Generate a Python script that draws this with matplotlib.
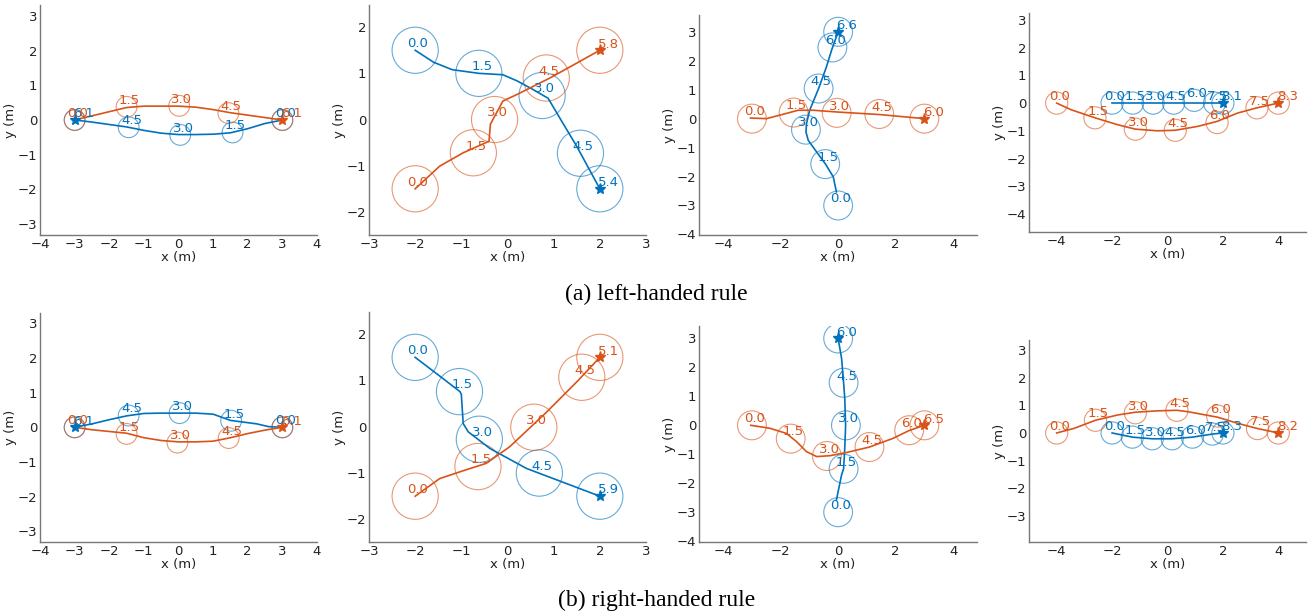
import matplotlib
matplotlib.use("Agg")
import matplotlib.pyplot as plt
from matplotlib.patches import Circle

W, H = 1313, 614
BLUE = "#0072BD"
ORANGE = "#D95319"

# ---------------- data ----------------
# Panel 1: left-handed, head-on swap
p1_blue_path = [(3, 0), (2.5, -0.1), (2, -0.25), (1.5, -0.37), (1, -0.41), (0.5, -0.42), (0, -0.42),
                (-0.5, -0.38), (-1, -0.3), (-1.5, -0.2), (-2, -0.13), (-2.5, -0.06), (-3, 0)]
p1_blue_marks = [("0.0", 3, 0), ("1.5", 1.56, -0.36), ("3.0", 0.05, -0.43), ("4.5", -1.44, -0.21), ("6.1", -3, 0)]
p1_orange_path = [(-3, 0), (-2.5, 0.12), (-2, 0.24), (-1.5, 0.36), (-1, 0.4), (-0.5, 0.4), (0, 0.4),
                  (0.5, 0.37), (1, 0.3), (1.5, 0.21), (2, 0.14), (2.5, 0.07), (3, 0)]
p1_orange_marks = [("0.0", -3, 0), ("1.5", -1.5, 0.38), ("3.0", 0.02, 0.41), ("4.5", 1.44, 0.2), ("6.1", 3, 0)]

# Panel 2: left-handed, diagonal crossing
p2_blue_path = [(-2, 1.5), (-1.6, 1.24), (-1.2, 1.08), (-0.62, 1.0), (-0.1, 0.97), (0.2, 0.84),
                (0.5, 0.68), (0.88, 0.46), (1.2, -0.08), (1.5, -0.58), (2, -1.5)]
p2_blue_marks = [("0.0", -2, 1.5), ("1.5", -0.62, 1.0), ("3.0", 0.75, 0.52), ("4.5", 1.58, -0.73), ("5.4", 2, -1.5)]
p2_orange_path = [(-2, -1.5), (-1.47, -1.01), (-0.96, -0.72), (-0.4, -0.47), (-0.37, -0.1), (-0.3, 0.03),
                  (-0.1, 0.4), (0.2, 0.54), (0.92, 0.9), (2, 1.5)]
p2_orange_marks = [("0.0", -2, -1.5), ("1.5", -0.74, -0.72), ("3.0", -0.28, 0.0), ("4.5", 0.84, 0.9), ("5.8", 2, 1.5)]

# Panel 3: left-handed, perpendicular crossing
p3_blue_path = [(-0.06, -2.53), (-0.17, -2.01), (-0.44, -1.57), (-0.75, -1.15), (-1.04, -0.75), (-1.12, -0.46),
                (-1.1, -0.17), (-0.99, 0.29), (-0.68, 1.04), (-0.41, 1.78), (-0.23, 2.36), (0, 3)]
p3_blue_marks = [("0.0", 0, -3), ("1.5", -0.45, -1.57), ("3.0", -1.12, -0.38), ("4.5", -0.68, 1.04),
                 ("6.0", -0.2, 2.46), ("6.6", 0, 3)]
p3_orange_path = [(-3.05, 0.02), (-2.49, 0.0), (-2.03, 0.12), (-1.39, 0.29), (-0.87, 0.29), (-0.05, 0.23),
                  (1.45, 0.14), (3, 0)]
p3_orange_marks = [("0.0", -3, 0), ("1.5", -1.55, 0.21), ("3.0", -0.05, 0.2), ("4.5", 1.43, 0.16), ("6.0", 3, 0)]

# Panel 4: left-handed, overtaking
p4_blue_path = [(-2, 0), (2, 0)]
p4_blue_marks = [("0.0", -2, 0), ("1.5", -1.26, 0), ("3.0", -0.52, 0), ("4.5", 0.22, 0), ("6.0", 0.96, 0.1),
                 ("7.5", 1.7, 0), ("8.1", 2, 0)]
p4_orange_path = [(-4, 0), (-3.48, -0.24), (-2.62, -0.53), (-1.8, -0.78), (-1.16, -0.94), (-0.36, -1.0),
                  (0.28, -0.98), (1.09, -0.84), (1.79, -0.66), (2.53, -0.36), (3.23, -0.17), (4, 0)]
p4_orange_marks = [("0.0", -4, 0), ("1.5", -2.62, -0.53), ("3.0", -1.16, -0.94), ("4.5", 0.28, -0.98),
                   ("6.0", 1.79, -0.7), ("7.5", 3.23, -0.17), ("8.3", 4, 0)]

# Panel 5: right-handed, head-on swap
p5_blue_path = [(3, 0), (2.6, 0.02), (2.26, 0.1), (1.5, 0.2), (1, 0.38), (0.5, 0.41), (0, 0.41),
                (-0.5, 0.41), (-1, 0.4), (-1.5, 0.33), (-2, 0.22), (-2.5, 0.1), (-3, 0)]
p5_blue_marks = [("0.0", 3, 0), ("1.5", 1.52, 0.19), ("3.0", 0.03, 0.41), ("4.5", -1.44, 0.34), ("6.1", -3, 0)]
p5_orange_path = [(-3, 0), (-2.5, -0.07), (-2, -0.12), (-1.5, -0.17), (-1, -0.3), (-0.5, -0.38), (0, -0.42),
                  (0.5, -0.42), (1, -0.4), (1.5, -0.3), (2, -0.18), (2.5, -0.08), (3, 0)]
p5_orange_marks = [("0.0", -3, 0), ("1.5", -1.5, -0.19), ("3.0", -0.03, -0.44), ("4.5", 1.45, -0.31), ("6.1", 3, 0)]

# Panel 6: right-handed, diagonal crossing
p6_blue_path = [(-2, 1.5), (-1.5, 1.12), (-1.03, 0.76), (-1.0, 0.7), (-0.96, 0.07), (-0.85, -0.11),
                (-0.38, -0.47), (0.41, -0.9), (2, -1.5)]
p6_blue_marks = [("0.0", -2, 1.5), ("1.5", -1.04, 0.76), ("3.0", -0.61, -0.27), ("4.5", 0.69, -1.0), ("5.9", 2, -1.5)]
p6_orange_path = [(-2, -1.5), (-1.47, -1.12), (-0.96, -0.95), (-0.46, -0.79), (0.05, -0.43), (0.85, 0.32),
                  (1.5, 0.97), (2, 1.5)]
p6_orange_marks = [("0.0", -2, -1.5), ("1.5", -0.64, -0.86), ("3.0", 0.57, -0.01), ("4.5", 1.61, 1.07), ("5.1", 2, 1.5)]

# Panel 7: right-handed, perpendicular crossing
p7_blue_path = [(-0.06, -2.58), (0.12, -1.71), (0.19, -1.5), (0.23, -0.79), (0.26, 0), (0.23, 0.93),
                (0.19, 1.47), (0.12, 2.31), (0, 3)]
p7_blue_marks = [("0.0", 0, -3), ("1.5", 0.19, -1.5), ("3.0", 0.27, 0), ("4.5", 0.19, 1.47), ("6.0", 0, 3)]
p7_orange_path = [(-3.04, 0), (-2.38, -0.1), (-1.8, -0.28), (-1.45, -0.56), (-1.1, -0.91), (-0.75, -1.08),
                  (-0.29, -1.05), (0.29, -0.94), (1.09, -0.75), (1.91, -0.45), (2.47, -0.18), (3, 0)]
p7_orange_marks = [("0.0", -3, 0), ("1.5", -1.65, -0.46), ("3.0", -0.39, -1.06), ("4.5", 1.09, -0.75),
                   ("6.0", 2.47, -0.17), ("6.5", 3, 0)]

# Panel 8: right-handed, overtaking
p8_blue_path = [(-2, 0), (-1.27, -0.15), (-0.55, -0.21), (0.17, -0.21), (0.9, -0.15), (1.62, -0.04), (2, 0)]
p8_blue_marks = [("0.0", -2, 0), ("1.5", -1.27, -0.15), ("3.0", -0.55, -0.21), ("4.5", 0.17, -0.21),
                 ("6.0", 0.9, -0.15), ("7.5", 1.62, -0.04), ("8.3", 2, 0)]
p8_orange_path = [(-4, 0), (-3.36, 0.17), (-2.6, 0.46), (-1.8, 0.65), (-1.16, 0.75), (-0.36, 0.8), (0.34, 0.82),
                  (0.73, 0.77), (1.81, 0.57), (2.53, 0.35), (3.25, 0.16), (4, 0)]
p8_orange_marks = [("0.0", -4, 0), ("1.5", -2.6, 0.46), ("3.0", -1.16, 0.73), ("4.5", 0.34, 0.82),
                   ("6.0", 1.81, 0.61), ("7.5", 3.25, 0.16), ("8.2", 4, 0)]

captions = ["(a) left-handed rule", "(b) right-handed rule"]

# ---------------- layout / style ----------------
panels = [
    # (blue path, blue marks, orange path, orange marks, radius, box px (l,t,r,b), xlim, ylim, xticks, yticks)
    (p1_blue_path, p1_blue_marks, p1_orange_path, p1_orange_marks, 0.3, (40, 5, 317, 235),
     (-4, 4), (-3.32, 3.32), range(-4, 5), range(-3, 4)),
    (p2_blue_path, p2_blue_marks, p2_orange_path, p2_orange_marks, 0.5, (369, 5, 646, 235),
     (-3, 3), (-2.5, 2.48), range(-3, 4), range(-2, 3)),
    (p3_blue_path, p3_blue_marks, p3_orange_path, p3_orange_marks, 0.5, (699, 15, 977, 235),
     (-4.84, 4.83), (-4.02, 3.58), range(-4, 5, 2), range(-4, 4)),
    (p4_blue_path, p4_blue_marks, p4_orange_path, p4_orange_marks, 0.4, (1029, 13, 1306, 232),
     (-5.0, 5.0), (-4.65, 3.25), range(-4, 5, 2), range(-4, 4)),
    (p5_blue_path, p5_blue_marks, p5_orange_path, p5_orange_marks, 0.3, (40, 313, 317, 542),
     (-4, 4), (-3.31, 3.3), range(-4, 5), range(-3, 4)),
    (p6_blue_path, p6_blue_marks, p6_orange_path, p6_orange_marks, 0.5, (369, 312, 646, 542),
     (-3, 3), (-2.49, 2.48), range(-3, 4), range(-2, 3)),
    (p7_blue_path, p7_blue_marks, p7_orange_path, p7_orange_marks, 0.5, (699, 326, 977, 542),
     (-4.84, 4.83), (-4.03, 3.43), range(-4, 5, 2), range(-4, 4)),
    (p8_blue_path, p8_blue_marks, p8_orange_path, p8_orange_marks, 0.4, (1029, 340, 1306, 542),
     (-5.0, 5.0), (-3.94, 3.36), range(-4, 5, 2), range(-3, 4)),
]

fig = plt.figure(figsize=(W / 100, H / 100), dpi=100)
FS = 9.5      # ticks / axis labels
FA = 9.5      # annotations


def draw_agent(ax, path, marks, color, r):
    xs = [p[0] for p in path]
    ys = [p[1] for p in path]
    ax.plot(xs, ys, color=color, lw=1.2, zorder=3)
    for i, (lab, cx, cy) in enumerate(marks):
        ax.add_patch(Circle((cx, cy), r, fill=False, edgecolor=color, lw=0.8, alpha=0.6, zorder=2))
        if i == len(marks) - 1:
            ax.plot([cx], [cy], marker="*", ms=8, color=color, zorder=4, ls="none")
            ax.annotate(lab, (cx, cy), xytext=(-1.2, 4.5), textcoords="offset points",
                        ha="left", va="center", color=color, fontsize=FA, zorder=5)
        else:
            ax.annotate(lab, (cx, cy), xytext=(2, 4.8), textcoords="offset points",
                        ha="center", va="center", color=color, fontsize=FA, zorder=5)


for (bp, bm, op, om, r, box, xl, yl, xt, yt) in panels:
    l, t, rr, b = box
    ax = fig.add_axes([l / W, 1 - b / H, (rr - l) / W, (b - t) / H])
    draw_agent(ax, bp, bm, BLUE, r)
    draw_agent(ax, op, om, ORANGE, r)
    ax.set_xlim(*xl)
    ax.set_ylim(*yl)
    ax.set_xticks(list(xt))
    ax.set_yticks(list(yt))
    for s in ("top", "right"):
        ax.spines[s].set_visible(False)
    for s in ("left", "bottom"):
        ax.spines[s].set_color("#777777")
        ax.spines[s].set_linewidth(1.0)
    ax.tick_params(length=0, labelsize=FS, pad=2, labelcolor="#222222")
    ax.set_xlabel("x (m)", fontsize=FS, labelpad=0, color="#222222")
    ax.set_ylabel("y (m)", fontsize=FS, labelpad=0.5, color="#222222")

fig.text(0.5, 1 - 294 / H, captions[0], ha="center", va="center",
         family="Liberation Serif", fontsize=17)
fig.text(0.5, 1 - 600 / H, captions[1], ha="center", va="center",
         family="Liberation Serif", fontsize=17)

fig.savefig("out.png", dpi=100)
